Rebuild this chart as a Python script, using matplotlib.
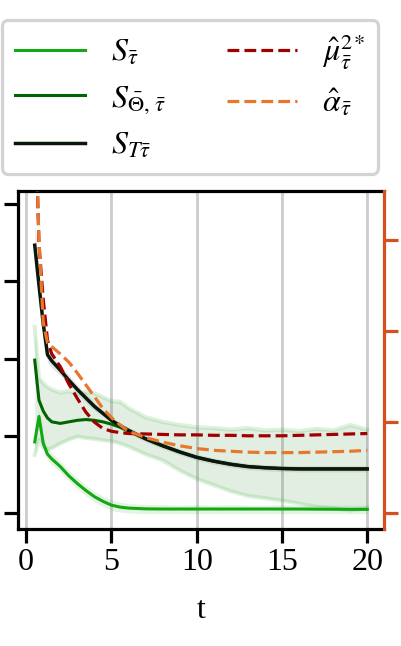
import matplotlib
matplotlib.use("Agg")
import matplotlib.pyplot as plt
import numpy as np

plt.rcParams['font.family'] = 'serif'
plt.rcParams['font.serif'] = ['Liberation Serif', 'DejaVu Serif']
plt.rcParams['mathtext.fontset'] = 'stix'

# time grid
t = [0.5, 0.75, 1.0, 1.25, 1.5, 2.0, 2.5, 3.0, 3.5, 4.0, 4.5, 5.0, 5.5, 6.0,
     7.0, 8.0, 9.0, 10.0, 11.0, 12.0, 13.0, 14.0, 15.0, 16.0, 17.0, 18.0, 19.0, 20.0]

# left axis series
s_tau = [0.92, 1.25, 0.90, 0.76, 0.70, 0.60, 0.48, 0.38, 0.29, 0.21, 0.15, 0.10, 0.075, 0.062,
         0.052, 0.05, 0.05, 0.05, 0.05, 0.05, 0.05, 0.05, 0.05, 0.05, 0.048, 0.047, 0.046, 0.045]
s_tau_hi = [1.02, 1.33, 0.98, 0.84, 0.78, 0.67, 0.55, 0.45, 0.36, 0.28, 0.22, 0.17, 0.14, 0.12,
            0.11, 0.11, 0.10, 0.11, 0.10, 0.11, 0.10, 0.10, 0.11, 0.10, 0.10, 0.10, 0.10, 0.10]
s_tau_lo = [0.82, 1.17, 0.82, 0.68, 0.62, 0.53, 0.41, 0.31, 0.22, 0.14, 0.08, 0.03, 0.01, 0.00,
            -0.01, -0.01, -0.01, -0.01, -0.01, -0.01, -0.01, -0.01, -0.01, -0.01, -0.01, -0.01, -0.01, -0.01]

s_theta = [1.98, 1.46, 1.32, 1.23, 1.18, 1.16, 1.18, 1.20, 1.21, 1.20, 1.18, 1.15, 1.11, 1.06,
           0.96, 0.87, 0.79, 0.72, 0.67, 0.63, 0.60, 0.585, 0.575, 0.57, 0.57, 0.57, 0.57, 0.57]
s_theta_hi = [2.41, 1.75, 1.68, 1.63, 1.60, 1.56, 1.58, 1.54, 1.57, 1.55, 1.50, 1.45, 1.44, 1.36,
              1.24, 1.18, 1.14, 1.11, 1.10, 1.08, 1.10, 1.07, 1.08, 1.06, 1.09, 1.07, 1.14, 1.08]
s_theta_lo = [0.75, 0.95, 0.85, 0.82, 0.84, 0.90, 0.95, 0.99, 0.97, 0.96, 0.94, 0.93, 0.90, 0.86,
              0.76, 0.68, 0.55, 0.44, 0.36, 0.28, 0.22, 0.19, 0.16, 0.12, 0.08, 0.06, 0.03, 0.06]

s_t = [3.47, 2.95, 2.45, 2.05, 1.97, 1.85, 1.72, 1.60, 1.49, 1.38, 1.29, 1.20, 1.13, 1.07,
       0.96, 0.87, 0.79, 0.72, 0.67, 0.63, 0.60, 0.585, 0.575, 0.57, 0.57, 0.57, 0.57, 0.57]
s_t_hi = [3.77, 3.10, 2.57, 2.15, 2.06, 1.92, 1.79, 1.66, 1.55, 1.43, 1.33, 1.24, 1.17, 1.11,
          1.00, 0.91, 0.83, 0.76, 0.71, 0.67, 0.64, 0.625, 0.615, 0.61, 0.61, 0.61, 0.61, 0.61]
s_t_lo = [3.25, 2.82, 2.33, 1.95, 1.88, 1.78, 1.65, 1.54, 1.43, 1.33, 1.25, 1.16, 1.09, 1.03,
          0.92, 0.83, 0.75, 0.68, 0.63, 0.59, 0.56, 0.545, 0.535, 0.53, 0.53, 0.53, 0.53, 0.53]

# right axis series
mu_hat = [4.60, 2.95, 2.35, 1.90, 1.75, 1.61, 1.42, 1.26, 1.11, 1.00, 0.93, 0.90, 0.885, 0.875,
          0.87, 0.865, 0.86, 0.86, 0.855, 0.855, 0.85, 0.85, 0.85, 0.855, 0.86, 0.865, 0.87, 0.875]
alpha_hat = [4.60, 3.00, 2.10, 1.87, 1.83, 1.75, 1.66, 1.54, 1.41, 1.28, 1.15, 1.05, 0.97, 0.90,
             0.83, 0.78, 0.74, 0.71, 0.69, 0.68, 0.67, 0.665, 0.665, 0.665, 0.67, 0.675, 0.68, 0.69]

labels = [r'$S_{\bar{\tau}}$', r'$S_{\bar{\Theta},\,\bar{\tau}}$', r'$S_{T\bar{\tau}}$',
          r'${\hat{\mu}_{\bar{\tau}}^{2}}^{*}$', r'$\hat{\alpha}_{\bar{\tau}}$']

c_light = '#14a814'
c_dark = '#006400'
c_black = '#0a180a'
c_red = '#a00000'
c_orange = '#e8772e'
c_axis = '#d4501e'

fig = plt.figure(figsize=(4.02, 6.46), dpi=100)
ax = fig.add_axes([0.045, 0.181, 0.91, 0.523])
ax2 = ax.twinx()

# bands
ax.fill_between(t, s_theta_lo, s_theta_hi, color='#2e7d2e', alpha=0.13, lw=0)
ax.plot(t, s_theta_hi, color=c_light, alpha=0.14, lw=3)
ax.plot(t, s_theta_lo, color=c_light, alpha=0.14, lw=3)
ax.fill_between(t, s_tau_lo, s_tau_hi, color=c_light, alpha=0.12, lw=0)
ax.fill_between(t, s_t_lo, s_t_hi, color='gray', alpha=0.2, lw=0)

l1, = ax.plot(t, s_tau, color=c_light, lw=2.2)
l2, = ax.plot(t, s_theta, color=c_dark, lw=2.2)
l3, = ax.plot(t, s_t, color=c_black, lw=2.5)

l4, = ax2.plot(t, mu_hat, color=c_red, lw=2.3, ls='--')
l5, = ax2.plot(t, alpha_hat, color=c_orange, lw=2.3, ls='--')

ax.set_xlim(-0.475, 20.975)
ax.set_ylim(-0.21, 4.17)
ax2.set_ylim(-0.176, 3.54)

ax.set_xticks([0, 5, 10, 15, 20])
ax.set_yticks([0, 1, 2, 3, 4])
ax2.set_yticks([0, 1, 2, 3])
ax.grid(axis='x', color='0.8', lw=2)
ax.set_axisbelow(True)

ax.tick_params(axis='both', direction='out', length=10, width=2.3, labelsize=23)
ax.tick_params(axis='y', labelleft=False)
ax2.tick_params(axis='y', direction='out', length=10, width=2.3, colors=c_axis, labelright=False)

for s in ['left', 'bottom', 'top']:
    ax.spines[s].set_linewidth(2.3)
ax.spines['right'].set_visible(False)
for s in ['left', 'bottom', 'top']:
    ax2.spines[s].set_visible(False)
ax2.spines['right'].set_color(c_axis)
ax2.spines['right'].set_linewidth(2.3)

ax.set_xlabel('t', fontsize=23, labelpad=14)

leg = ax.legend([l1, l2, l3, l4, l5], labels, ncol=2, fontsize=23,
                loc='lower left', bbox_to_anchor=(0.005, 0.731),
                bbox_transform=fig.transFigure, borderaxespad=0,
                handlelength=2.2, handletextpad=0.8, columnspacing=1.9,
                labelspacing=0.5, fancybox=True, framealpha=1)
leg.get_frame().set_edgecolor('#d3d3d3')
leg.get_frame().set_linewidth(2.3)

fig.savefig('out.png', dpi=100)
